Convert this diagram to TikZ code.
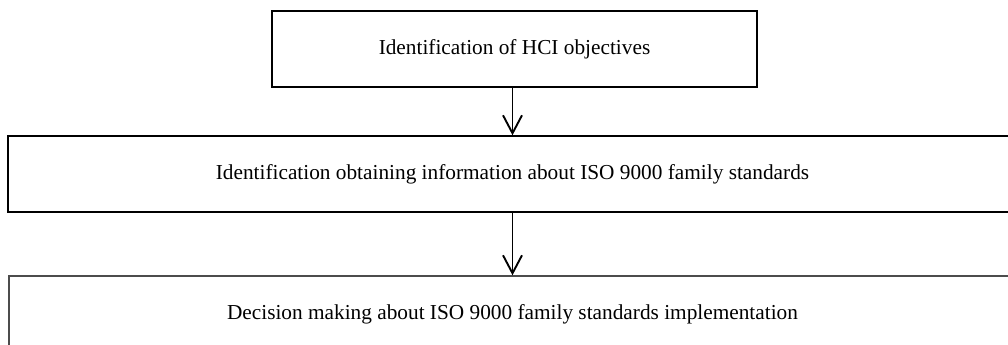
\documentclass[tikz,border=0pt]{standalone}
\usepackage{fontspec}
\setmainfont{Liberation Serif}
\usetikzlibrary{arrows.meta}

\begin{document}
\begin{tikzpicture}[x=0.5pt,y=-0.5pt,
    stepbox/.style={draw,line width=0.7pt,inner sep=0pt,minimum height=38pt,
        font=\fontsize{10.65}{13}\selectfont},
    flow/.style={line width=0.95pt,-{Straight Barb[length=9pt,width=9.5pt]}}]

    \useasboundingbox (0,0) rectangle (1008,344);
    \clip (0,0) rectangle (1008,344);

    % steps
    \node[stepbox,minimum width=242.5pt] (hci) at (514.5,49) {Identification of HCI objectives};
    \node[stepbox,minimum width=504.5pt] (iso) at (512.5,174) {Identification obtaining information about ISO 9000 family standards};
    \node[stepbox,minimum width=503.5pt,draw=black!70] (dec) at (512.5,314) {Decision making about ISO 9000 family standards implementation};

    \draw[flow] (iso.north |- hci.south) to (iso.north); % hci -> iso
    \draw[flow] (iso.south) to (dec.north); % iso -> dec

\end{tikzpicture}
\end{document}
